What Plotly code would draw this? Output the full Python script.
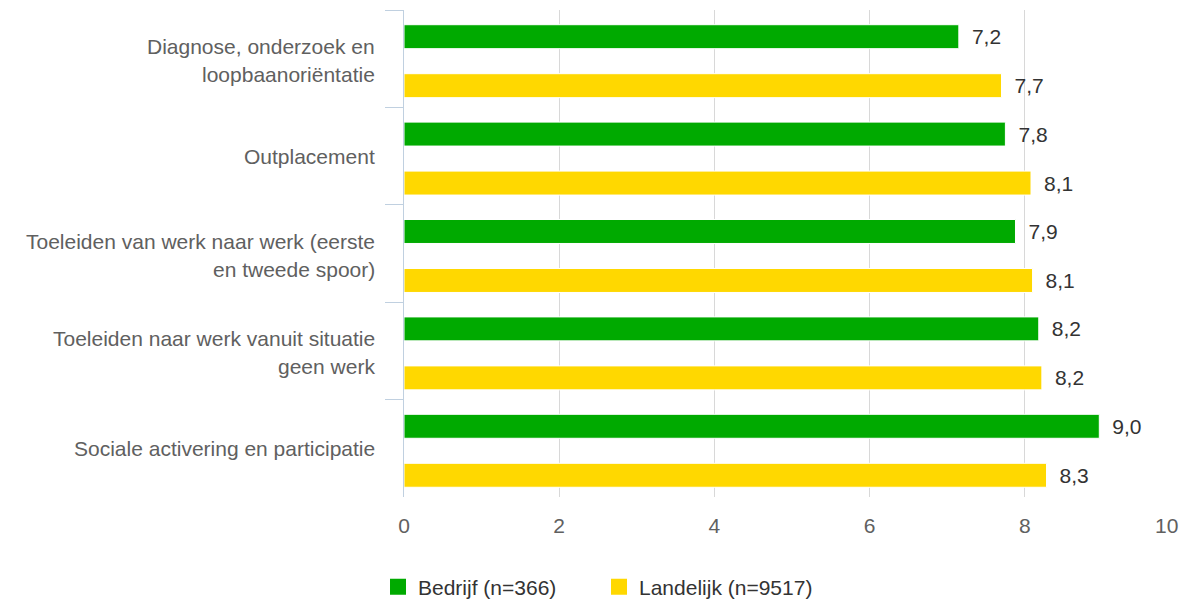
import plotly.graph_objects as go

categories = [
    "Diagnose, onderzoek en\nloopbaanoriëntatie",
    "Outplacement",
    "Toeleiden van werk naar werk (eerste\nen tweede spoor)",
    "Toeleiden naar werk vanuit situatie\ngeen werk",
    "Sociale activering en participatie",
]
bedrijf = [7.15, 7.75, 7.88, 8.18, 8.96]
landelijk = [7.70, 8.08, 8.10, 8.22, 8.28]
series_names = ["Bedrijf (n=366)", "Landelijk (n=9517)"]
colors = ["#00AA00", "#FFD800"]
x_ticks = [0, 2, 4, 6, 8, 10]
x_tick_labels = ["0", "2", "4", "6", "8", "10"]

FONT = "Arial, Liberation Sans, sans-serif"
FS = 21
cat_keys = [c.replace("\n", " ") for c in categories]

BAR_W = 0.246
BAR_OFFSETS = [-0.349, 0.154]


def fmt(v):
    return "\u00a0\u2009" + f"{v:.1f}".replace(".", ",")


fig = go.Figure()
for name, vals, col, off in zip(series_names, [bedrijf, landelijk], colors, BAR_OFFSETS):
    fig.add_trace(go.Bar(
        y=cat_keys, x=vals, orientation="h", name=name,
        width=BAR_W, offset=off,
        marker=dict(color=col, line=dict(color="white", width=1)),
        text=[fmt(v) for v in vals], textposition="outside",
        textfont=dict(family=FONT, size=FS, color="#333333"),
        cliponaxis=False, showlegend=False, hoverinfo="x+y",
    ))
    fig.add_trace(go.Scatter(
        x=[None], y=[None], mode="markers", name=name,
        marker=dict(symbol="square", size=22, color=col),
        showlegend=True,
    ))

annotations = []
for key, cat in zip(cat_keys, categories):
    lines = cat.split("\n")
    shifts = [0] if len(lines) == 1 else [12, -16]
    for ln, sh in zip(lines, shifts):
        annotations.append(dict(
            x=0, xref="paper", y=key, yref="y", text=ln, showarrow=False,
            xanchor="right", yanchor="middle", xshift=-27, yshift=sh,
            font=dict(family=FONT, size=FS, color="#606060"),
        ))

# last x tick label is right-aligned to its tick so it stays inside the chart
last_tick = x_ticks[-1]
annotations.append(dict(
    x=last_tick, xref="x", y=0, yref="paper", text=x_tick_labels[-1],
    showarrow=False, xanchor="right", yanchor="middle", yshift=-28,
    font=dict(family=FONT, size=FS, color="#606060"),
))
shown_tick_text = x_tick_labels[:-1] + [""]

fig.update_layout(
    width=1181, height=600,
    margin=dict(l=404, r=1, t=10, b=103, autoexpand=False),
    paper_bgcolor="white", plot_bgcolor="white",
    barmode="group",
    font=dict(family=FONT, size=FS, color="#333333"),
    annotations=annotations,
    legend=dict(
        orientation="h", x=-0.0335, xanchor="left", y=-0.1848, yanchor="middle",
        font=dict(family=FONT, size=FS, color="#333333"),
        itemclick=False, entrywidth=176, entrywidthmode="pixels",
    ),
    xaxis=dict(
        range=[0, 10], tickvals=x_ticks, ticktext=shown_tick_text,
        showgrid=True, gridcolor="#D8D8D8", gridwidth=1,
        zeroline=False, showline=False,
        ticks="outside", ticklen=10, tickcolor="rgba(0,0,0,0)",
        tickfont=dict(family=FONT, size=FS, color="#606060"),
    ),
    yaxis=dict(
        categoryorder="array", categoryarray=cat_keys,
        range=[4.5, -0.5], showticklabels=False,
        tickson="boundaries", ticks="outside", ticklen=18, tickcolor="#C0D0E0",
        showline=True, linecolor="#C0D0E0", linewidth=1,
        showgrid=False, zeroline=False,
    ),
)

fig.write_html("out.html", config={"displayModeBar": False},
               post_script="document.body.style.margin='0';")
